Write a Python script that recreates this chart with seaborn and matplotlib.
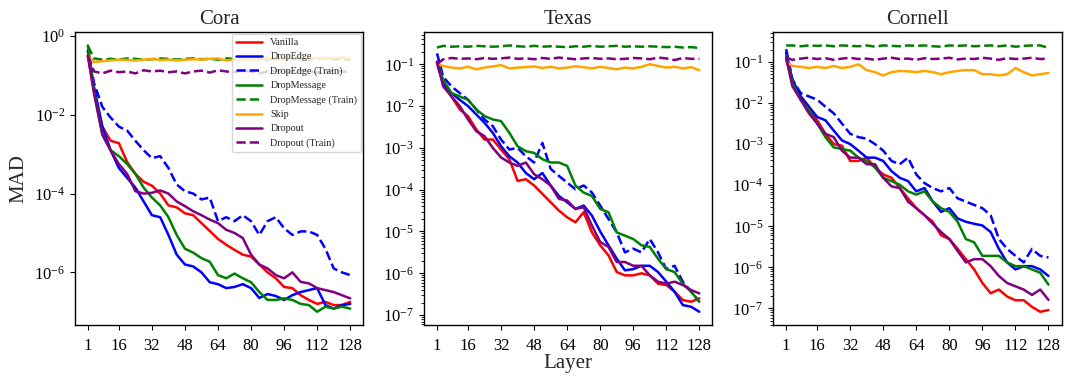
import numpy as np
import matplotlib
matplotlib.use("Agg")
import matplotlib.pyplot as plt
from matplotlib.ticker import LogLocator, NullLocator, NullFormatter
import seaborn as sns

# -----------------------------
# data (log10 of MAD, every 4 layers)
# -----------------------------
layers = [1] + list(range(4, 129, 4))
xticks = [1, 16, 32, 48, 64, 80, 96, 112, 128]
datasets = ["Cora", "Texas", "Cornell"]

cora_vanilla = [-0.5, -1.4, -2.3, -2.66, -2.72, -3.2, -3.5, -3.7, -3.8, -4.0, -4.3, -4.35, -4.5, -4.55, -4.75, -4.95, -5.15,
                -5.3, -5.43, -5.55, -5.6, -5.8, -6.0, -6.15, -6.37, -6.4, -6.58, -6.7, -6.8, -6.75, -6.83, -6.83, -6.75]
cora_dropedge = [-0.37, -1.3, -2.3, -2.9, -3.35, -3.6, -3.85, -4.2, -4.55, -4.6, -5.05, -5.55, -5.8, -5.85, -6.0, -6.25, -6.3,
                 -6.4, -6.37, -6.3, -6.4, -6.65, -6.55, -6.6, -6.7, -6.58, -6.5, -6.45, -6.4, -6.83, -6.92, -6.83, -6.8]
cora_dropedge_train = [-0.37, -1.2, -1.8, -2.07, -2.3, -2.4, -2.66, -2.9, -3.1, -3.05, -3.35, -3.77, -3.94, -4.0, -4.15, -4.1,
                       -4.7, -4.6, -4.7, -4.55, -4.7, -5.05, -4.7, -4.6, -4.88, -5.05, -4.96, -4.96, -5.05, -5.4, -5.9, -6.0, -6.07]
cora_dropmessage = [-0.24, -1.4, -2.5, -2.9, -3.05, -3.25, -3.5, -3.85, -4.1, -4.3, -4.6, -5.05, -5.4, -5.5, -5.64, -5.73, -6.07,
                    -6.15, -6.03, -6.15, -6.25, -6.5, -6.7, -6.7, -6.66, -6.7, -6.8, -6.83, -7.0, -6.87, -6.92, -6.87, -6.92]
cora_dropmessage_train = [-0.25, -0.57, -0.6, -0.58, -0.6, -0.57, -0.58, -0.6, -0.59, -0.57, -0.58, -0.6, -0.58, -0.57, -0.59,
                          -0.58, -0.6, -0.57, -0.58, -0.59, -0.57, -0.58, -0.6, -0.58, -0.57, -0.59, -0.58, -0.6, -0.57, -0.58,
                          -0.59, -0.58, -0.6]
cora_skip = [-0.5, -0.66, -0.64, -0.62, -0.6, -0.61, -0.62, -0.6, -0.58, -0.61, -0.6, -0.62, -0.6, -0.59, -0.6, -0.58, -0.57,
             -0.62, -0.6, -0.58, -0.6, -0.59, -0.57, -0.6, -0.58, -0.56, -0.58, -0.57, -0.56, -0.58, -0.56, -0.55, -0.56]
cora_dropout = [-0.5, -1.47, -2.5, -2.9, -3.25, -3.5, -3.94, -4.0, -3.98, -3.92, -4.0, -4.2, -4.32, -4.45, -4.55, -4.66, -4.75,
                -4.92, -5.0, -5.13, -5.55, -5.8, -5.9, -6.07, -6.15, -6.0, -6.24, -6.28, -6.4, -6.45, -6.5, -6.58, -6.66]
cora_dropout_train = [-0.5, -0.9, -0.95, -0.88, -0.92, -0.9, -0.95, -0.87, -0.9, -0.88, -0.92, -0.9, -0.95, -0.9, -0.88, -0.93,
                      -0.87, -0.9, -0.92, -0.88, -0.9, -0.95, -0.9, -0.88, -0.92, -0.9, -0.87, -0.9, -0.93, -0.9, -0.88, -0.9, -0.92]

texas_vanilla = [-0.94, -1.45, -1.77, -2.08, -2.24, -2.56, -2.8, -2.8, -3.04, -3.27, -3.79, -3.75, -3.9, -4.1, -4.3, -4.5, -4.66,
                 -4.78, -4.54, -5.02, -5.33, -5.57, -5.97, -6.05, -6.05, -6.0, -6.05, -6.25, -6.28, -6.44, -6.64, -6.68, -6.6]
texas_dropedge = [-0.98, -1.45, -1.69, -1.85, -2.0, -2.2, -2.4, -2.64, -2.96, -3.2, -3.35, -3.6, -3.75, -3.6, -3.9, -4.15, -4.3,
                  -4.46, -4.38, -4.62, -5.0, -5.33, -5.65, -5.93, -5.9, -5.82, -5.82, -5.97, -6.2, -6.44, -6.76, -6.8, -6.92]
texas_dropedge_train = [-0.74, -1.3, -1.53, -1.69, -1.85, -2.08, -2.32, -2.48, -2.8, -3.04, -3.0, -3.2, -3.35, -2.88, -3.5, -3.67,
                        -3.83, -3.99, -3.9, -4.07, -4.38, -4.7, -5.02, -5.5, -5.41, -5.5, -5.18, -5.5, -5.9, -5.82, -6.2, -6.44, -6.68]
texas_dropmessage = [-0.94, -1.37, -1.69, -1.77, -1.85, -2.08, -2.24, -2.32, -2.36, -2.64, -2.96, -3.08, -3.12, -3.27, -3.35, -3.35,
                     -3.43, -3.9, -4.07, -4.15, -4.46, -4.54, -5.02, -5.1, -5.18, -5.33, -5.37, -5.65, -5.9, -5.97, -6.25, -6.44, -6.68]
texas_dropmessage_train = [-0.6, -0.56, -0.58, -0.57, -0.58, -0.56, -0.57, -0.58, -0.57, -0.55, -0.57, -0.58, -0.56, -0.58, -0.57,
                           -0.58, -0.59, -0.57, -0.58, -0.56, -0.58, -0.57, -0.56, -0.58, -0.57, -0.58, -0.57, -0.58, -0.59, -0.58,
                           -0.6, -0.59, -0.61]
texas_skip = [-1.0, -1.04, -1.08, -1.1, -1.06, -1.12, -1.08, -1.05, -1.02, -1.1, -1.08, -1.07, -1.05, -1.09, -1.06, -1.1, -1.08,
              -1.05, -1.07, -1.1, -1.06, -1.09, -1.12, -1.08, -1.1, -1.06, -1.0, -1.04, -1.08, -1.06, -1.1, -1.07, -1.14]
texas_dropout = [-0.94, -1.53, -1.77, -2.0, -2.32, -2.6, -2.72, -3.0, -3.23, -3.35, -3.43, -3.35, -3.63, -3.75, -3.9, -4.22, -4.26,
                 -4.46, -4.42, -4.86, -5.25, -5.37, -5.73, -5.73, -5.82, -5.82, -6.05, -6.2, -6.25, -6.2, -6.28, -6.4, -6.48]
texas_dropout_train = [-1.0, -0.88, -0.85, -0.87, -0.86, -0.88, -0.85, -0.87, -0.86, -0.84, -0.87, -0.86, -0.88, -0.85, -0.87,
                       -0.84, -0.86, -0.88, -0.86, -0.85, -0.87, -0.86, -0.88, -0.87, -0.85, -0.86, -0.88, -0.84, -0.86, -0.9,
                       -0.85, -0.87, -0.87]

cornell_vanilla = [-0.93, -1.51, -1.84, -2.09, -2.42, -2.75, -3.0, -3.04, -3.41, -3.41, -3.33, -3.57, -3.74, -3.82, -4.07, -4.32,
                   -4.56, -4.73, -4.89, -5.22, -5.31, -5.55, -5.8, -6.05, -6.38, -6.63, -6.54, -6.71, -6.8, -6.8, -6.96, -7.08, -7.04]
cornell_dropedge = [-0.77, -1.43, -1.84, -2.09, -2.34, -2.42, -2.67, -2.91, -3.0, -3.16, -3.33, -3.33, -3.41, -3.66, -3.82, -3.9,
                    -4.15, -4.07, -4.4, -4.65, -4.56, -4.81, -4.89, -4.94, -4.98, -5.14, -5.55, -5.88, -6.05, -5.97, -5.97, -6.05, -6.21]
cornell_dropedge_train = [-0.69, -1.43, -1.76, -1.84, -1.92, -2.09, -2.25, -2.5, -2.75, -2.83, -2.87, -3.0, -3.16, -3.41, -3.49,
                          -3.33, -3.74, -3.95, -4.07, -4.15, -4.07, -4.32, -4.4, -4.48, -4.56, -4.73, -5.31, -5.55, -5.72, -5.88,
                          -5.55, -5.72, -5.76]
cornell_dropmessage = [-0.85, -1.51, -1.92, -2.17, -2.5, -2.83, -3.08, -3.12, -3.16, -3.33, -3.41, -3.57, -3.82, -3.9, -3.99, -4.15,
                       -4.23, -4.15, -4.4, -4.56, -4.65, -4.89, -5.31, -5.39, -5.72, -5.72, -5.72, -5.88, -5.97, -5.97, -6.05, -6.13, -6.42]
cornell_dropmessage_train = [-0.6, -0.6, -0.62, -0.6, -0.61, -0.6, -0.62, -0.6, -0.61, -0.62, -0.6, -0.63, -0.6, -0.61, -0.62,
                             -0.6, -0.61, -0.6, -0.62, -0.63, -0.6, -0.61, -0.6, -0.62, -0.61, -0.6, -0.62, -0.6, -0.63, -0.61,
                             -0.6, -0.6, -0.66]
cornell_skip = [-1.0, -1.1, -1.12, -1.15, -1.12, -1.15, -1.1, -1.15, -1.12, -1.06, -1.2, -1.25, -1.33, -1.25, -1.22, -1.23, -1.25,
                -1.22, -1.25, -1.3, -1.25, -1.22, -1.2, -1.2, -1.3, -1.3, -1.33, -1.3, -1.15, -1.25, -1.33, -1.3, -1.27]
cornell_dropout = [-0.89, -1.59, -1.92, -2.25, -2.5, -2.75, -2.83, -3.16, -3.33, -3.33, -3.49, -3.49, -3.82, -4.03, -4.07, -4.4,
                   -4.56, -4.73, -4.94, -5.14, -5.31, -5.6, -5.88, -5.8, -5.8, -5.97, -6.21, -6.38, -6.46, -6.54, -6.67, -6.54, -6.79]
cornell_dropout_train = [-0.9, -0.95, -0.92, -0.9, -0.93, -0.91, -0.95, -0.92, -0.9, -0.93, -0.92, -0.95, -0.92, -0.9, -0.93,
                         -0.92, -0.95, -0.91, -0.93, -0.92, -0.9, -0.94, -0.92, -0.93, -0.9, -0.92, -0.95, -0.91, -0.93, -0.92,
                         -0.9, -0.93, -0.92]

# label, color, linestyle
series = [
    ("Vanilla", "red", "-"),
    ("DropEdge", "blue", "-"),
    ("DropEdge (Train)", "blue", "--"),
    ("DropMessage", "green", "-"),
    ("DropMessage (Train)", "green", "--"),
    ("Skip", "orange", "-"),
    ("Dropout", "purple", "-"),
    ("Dropout (Train)", "purple", "--"),
]

values = {
    "Cora": [cora_vanilla, cora_dropedge, cora_dropedge_train, cora_dropmessage,
             cora_dropmessage_train, cora_skip, cora_dropout, cora_dropout_train],
    "Texas": [texas_vanilla, texas_dropedge, texas_dropedge_train, texas_dropmessage,
              texas_dropmessage_train, texas_skip, texas_dropout, texas_dropout_train],
    "Cornell": [cornell_vanilla, cornell_dropedge, cornell_dropedge_train, cornell_dropmessage,
                cornell_dropmessage_train, cornell_skip, cornell_dropout, cornell_dropout_train],
}

# -----------------------------
# style
# -----------------------------
sns.set_theme(style="ticks")
plt.rcParams["font.family"] = ["Liberation Serif", "DejaVu Serif"]
plt.rcParams["mathtext.fontset"] = "stix"
plt.rcParams["axes.edgecolor"] = "black"

fig, axes = plt.subplots(1, 3, figsize=(10.68, 3.78), dpi=100)
fig.subplots_adjust(left=0.070, right=0.994, bottom=0.14, top=0.915, wspace=0.21)

for i, (ax, name) in enumerate(zip(axes, datasets)):
    for (label, color, ls), vals in zip(series, values[name]):
        sns.lineplot(x=layers, y=10 ** np.array(vals), ax=ax, color=color,
                     linestyle=ls, linewidth=1.8, label=label if i == 0 else None)
    ax.set_yscale("log")
    ax.set_xticks(xticks)
    ax.tick_params(axis="x", which="major", pad=6)
    ax.tick_params(axis="both", which="major", labelsize=12, colors="black",
                   length=3.5, width=0.8)
    ax.tick_params(axis="y", which="minor", length=2, width=0.6, colors="black")
    ax.yaxis.set_minor_formatter(NullFormatter())
    ax.set_title(name, fontsize=15)
    for s in ax.spines.values():
        s.set_linewidth(1.0)
    if i != 0 and ax.get_legend() is not None:
        ax.get_legend().remove()

# Cora spans more decades: labels every second decade, no minor ticks
axes[0].yaxis.set_major_locator(LogLocator(base=10, numticks=5))
axes[0].yaxis.set_minor_locator(NullLocator())

axes[0].set_ylabel("MAD", fontsize=15)
axes[1].set_xlabel("Layer", fontsize=15, labelpad=0)
axes[0].legend(loc="upper right", fontsize=7.3, handlelength=2.6,
               borderaxespad=0.2, framealpha=0.8)

plt.savefig("out.png", dpi=100)
